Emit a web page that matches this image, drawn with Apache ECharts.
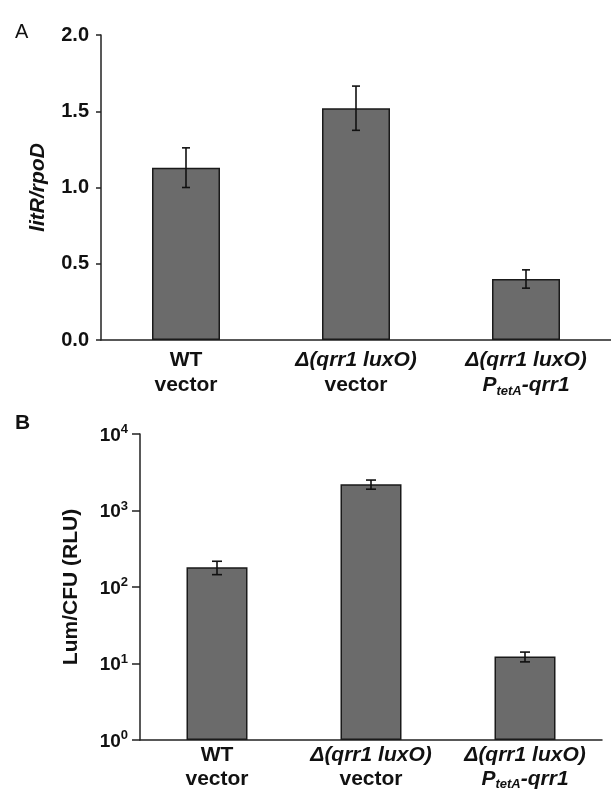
<!DOCTYPE html>
<html>
<head>
<meta charset="utf-8">
<script src="https://cdn.jsdelivr.net/npm/echarts@6/dist/echarts.min.js"></script>
<style>
  html, body { margin: 0; padding: 0; background: #fff; }
  #chart { width: 611px; height: 791px; }
</style>
</head>
<body>
<div id="chart"></div>
<script>
// categories, two lines each
const categories = ['WT\nvector', 'Δ(qrr1 luxO)\nvector', 'Δ(qrr1 luxO)\nPtetA-qrr1'];

// panel A: litR/rpoD
const litRValues = [1.13, 1.52, 0.40];
const litRErrors = [0.13, 0.145, 0.06];
const litRTicks = [0, 0.5, 1.0, 1.5, 2.0];

// panel B: Lum/CFU (RLU), log scale
const lumValues = [181, 2200, 12.3];
const lumErrors = [36, 300, 1.8];

const FONT = '"Liberation Sans", Arial, sans-serif';
const AXIS_COLOR = '#222';
const BAR_COLOR = '#6b6b6b';

function lineRich(s) {
  if (s.indexOf('Δ') === 0) return '{it|' + s + '}';
  if (s.indexOf('PtetA') === 0) return '{it|P}{sub|tetA}{it|' + s.slice(5) + '}';
  return '{b|' + s + '}';
}

function catLabel(lh, margin) {
  return {
    margin: margin,
    interval: 0,
    formatter: v => v.split('\n').map(lineRich).join('\n'),
    rich: {
      b: { fontFamily: FONT, fontWeight: 'bold', fontSize: 21, color: '#111', lineHeight: lh },
      it: { fontFamily: FONT, fontWeight: 'bold', fontStyle: 'italic', fontSize: 21, color: '#111', lineHeight: lh },
      sub: { fontFamily: FONT, fontWeight: 'bold', fontStyle: 'italic', fontSize: 13, color: '#111', lineHeight: lh, verticalAlign: 'bottom', padding: [0, 0, 0, 0] }
    }
  };
}

function errorSeries(xi, yi, values, errors, cap) {
  return {
    type: 'custom',
    xAxisIndex: xi,
    yAxisIndex: yi,
    z: 5,
    data: values.map((v, i) => [i, v - errors[i], v + errors[i]]),
    renderItem: function (params, api) {
      const lo = api.coord([api.value(0), api.value(1)]);
      const hi = api.coord([api.value(0), api.value(2)]);
      const style = { stroke: '#111', lineWidth: 1.6 };
      return {
        type: 'group',
        children: [
          { type: 'line', shape: { x1: hi[0], y1: hi[1], x2: lo[0], y2: lo[1] }, style: style },
          { type: 'line', shape: { x1: hi[0] - cap, y1: hi[1], x2: hi[0] + cap, y2: hi[1] }, style: style },
          { type: 'line', shape: { x1: lo[0] - cap, y1: lo[1], x2: lo[0] + cap, y2: lo[1] }, style: style }
        ]
      };
    }
  };
}

const chart = echarts.init(document.getElementById('chart'));

const option = {
  animation: false,
  backgroundColor: '#fff',
  graphic: [
    { type: 'text', left: 15, top: 22, style: { text: 'A', fontFamily: FONT, fontSize: 20, fill: '#111' } },
    { type: 'text', left: 15, top: 413, style: { text: 'B', fontFamily: FONT, fontSize: 21, fontWeight: 'bold', fill: '#111' } }
  ],
  grid: [
    { left: 101, top: 35, width: 513, height: 305 },
    { left: 140, top: 434, width: 462, height: 306 }
  ],
  xAxis: [
    {
      type: 'category', gridIndex: 0, data: categories,
      axisLine: { lineStyle: { color: AXIS_COLOR, width: 1.5 } },
      axisTick: { show: false },
      axisLabel: catLabel(25, 8)
    },
    {
      type: 'category', gridIndex: 1, data: categories,
      axisLine: { lineStyle: { color: AXIS_COLOR, width: 1.5 } },
      axisTick: { show: false },
      axisLabel: catLabel(24, 3)
    }
  ],
  yAxis: [
    {
      type: 'value', gridIndex: 0,
      min: litRTicks[0], max: litRTicks[litRTicks.length - 1], interval: 0.5,
      name: '{i|litR/rpoD}', nameLocation: 'middle', nameGap: 52,
      nameTextStyle: { rich: { i: { fontFamily: FONT, fontWeight: 'bold', fontStyle: 'italic', fontSize: 21, color: '#111' } } },
      axisLine: { show: true, lineStyle: { color: AXIS_COLOR, width: 1.5 } },
      axisTick: { show: true, length: 5, lineStyle: { color: AXIS_COLOR, width: 1.5 } },
      splitLine: { show: false },
      axisLabel: {
        margin: 12,
        fontFamily: FONT, fontWeight: 'bold', fontSize: 20, color: '#111',
        formatter: v => v.toFixed(1)
      }
    },
    {
      type: 'log', gridIndex: 1, logBase: 10, min: 1, max: 10000,
      name: 'Lum/CFU (RLU)', nameLocation: 'middle', nameGap: 58,
      nameTextStyle: { fontFamily: FONT, fontWeight: 'bold', fontSize: 21, color: '#111' },
      axisLine: { show: true, lineStyle: { color: AXIS_COLOR, width: 1.5 } },
      axisTick: { show: true, length: 8, lineStyle: { color: AXIS_COLOR, width: 1.5 } },
      splitLine: { show: false },
      minorTick: { show: false },
      axisLabel: {
        margin: 12,
        formatter: v => '{b|10}{s|' + Math.round(Math.log10(v)) + '}',
        rich: {
          b: { fontFamily: FONT, fontWeight: 'bold', fontSize: 19, color: '#111', lineHeight: 22, verticalAlign: 'bottom' },
          s: { fontFamily: FONT, fontWeight: 'bold', fontSize: 13, color: '#111', lineHeight: 22, verticalAlign: 'top' }
        }
      }
    }
  ],
  series: [
    {
      type: 'bar', xAxisIndex: 0, yAxisIndex: 0, data: litRValues, barWidth: 68,
      itemStyle: { color: BAR_COLOR, borderColor: '#1a1a1a', borderWidth: 1.5 }
    },
    errorSeries(0, 0, litRValues, litRErrors, 4),
    {
      type: 'bar', xAxisIndex: 1, yAxisIndex: 1, data: lumValues, barWidth: 61,
      itemStyle: { color: BAR_COLOR, borderColor: '#1a1a1a', borderWidth: 1.5 }
    },
    errorSeries(1, 1, lumValues, lumErrors, 5)
  ]
};

chart.setOption(option);
</script>
</body>
</html>
